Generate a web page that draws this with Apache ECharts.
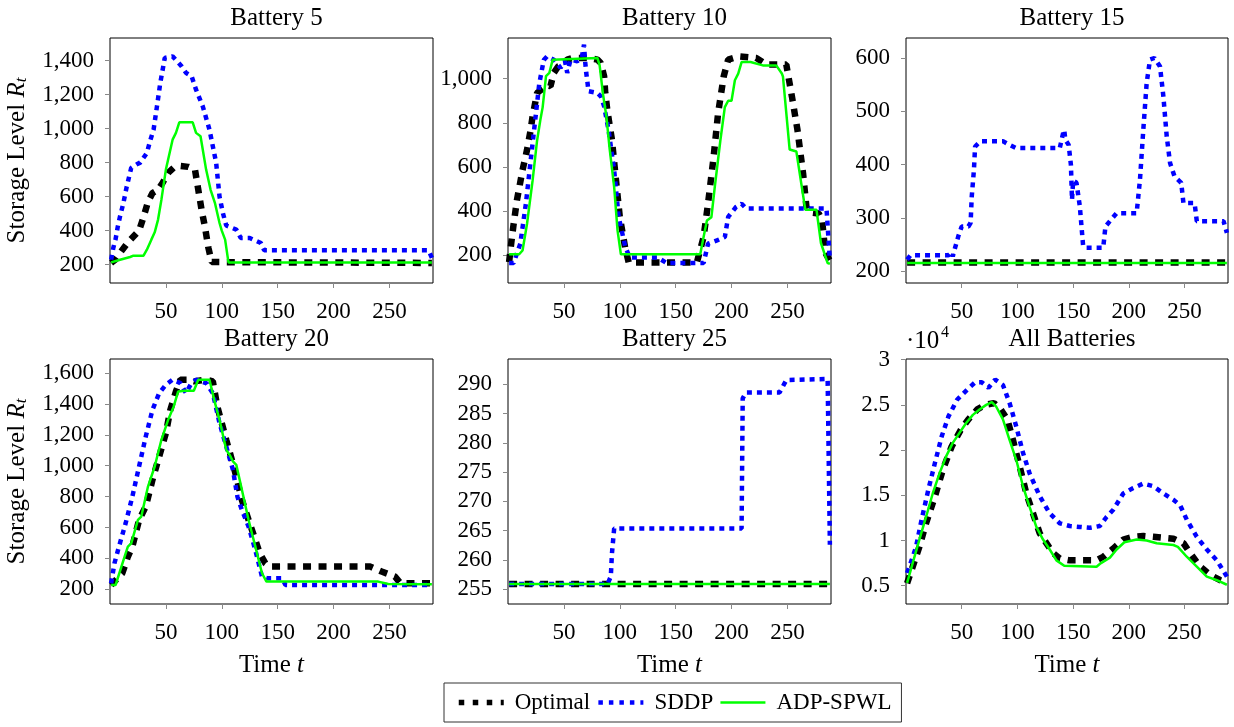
<!DOCTYPE html>
<html>
<head>
<meta charset="utf-8">
<script src="https://cdn.jsdelivr.net/npm/echarts@6/dist/echarts.min.js"></script>
<style>
  html, body { margin: 0; padding: 0; background: #fff; }
  #main { width: 1234px; height: 727px; }
</style>
</head>
<body>
<div id="main"></div>
<script>
// time axis ticks (shared by every panel)
const timeTicks = [50, 100, 150, 200, 250];

// Battery 5
const b5Optimal = [[1,210],[5,230],[10,278],[16,330],[21,365],[26,400],[30,480],[34,570],[38,621],[43,640],[47,680],[52,740],[57,770],[63,780],[70,775],[76,760],[79,640],[82,520],[85,420],[88,300],[91,215],[288,210]];
const b5Sddp = [[1,229],[3,300],[5,350],[7,425],[9,484],[12,563],[15,660],[19,769],[24,790],[27,800],[33,857],[36,930],[39,994],[42,1130],[45,1269],[49,1416],[56,1425],[61,1390],[64,1367],[68,1328],[73,1308],[77,1229],[83,1131],[89,994],[95,798],[98,600],[101,504],[104,430],[113,406],[117,357],[125,357],[135,327],[138,284],[285,284],[288,240]];
const b5Adp = [[1,213],[9,229],[18,245],[21,253],[30,253],[33,288],[37,347],[40,390],[43,465],[46,582],[50,759],[56,935],[59,975],[62,1037],[74,1037],[77,975],[81,955],[86,759],[90,640],[94,560],[98,445],[100,400],[103,347],[106,213],[288,213]];
const b5Ticks = [200, 400, 600, 800, 1000, 1200, 1400];

// Battery 10
const b10Optimal = [[1,170],[3,260],[5,340],[8,450],[13,586],[17,677],[20,760],[22,829],[26,935],[28,943],[35,970],[38,966],[41,1026],[45,1056],[49,1064],[53,1086],[58,1094],[72,1094],[80,1086],[83,1071],[86,1011],[87,935],[89,852],[93,723],[96,571],[100,374],[105,230],[108,168],[169,168],[175,283],[179,435],[184,647],[188,844],[193,1010],[197,1086],[207,1101],[222,1094],[231,1064],[249,1064],[254,920],[259,768],[264,571],[267,420],[270,395],[278,390],[281,359],[284,211],[288,175]];
const b10Sddp = [[1,165],[5,165],[11,253],[16,434],[20,616],[25,842],[28,978],[32,1084],[35,1101],[41,1086],[47,1049],[51,1079],[53,1026],[56,1086],[62,1079],[66,1094],[68,1154],[69,1079],[70,1026],[71,988],[72,943],[80,935],[83,920],[86,875],[90,766],[95,585],[99,374],[105,238],[109,190],[134,190],[142,165],[175,165],[179,253],[187,268],[194,283],[197,374],[204,419],[209,434],[213,412],[285,412],[288,177]];
const b10Adp = [[1,205],[10,205],[13,222],[17,342],[22,538],[26,719],[29,815],[31,870],[34,1011],[37,1026],[40,1086],[80,1094],[82,1060],[85,930],[88,830],[91,680],[95,509],[98,313],[101,205],[172,205],[175,283],[178,358],[182,373],[185,509],[190,720],[194,871],[197,900],[200,900],[203,993],[206,1023],[209,1075],[217,1075],[228,1060],[240,1060],[245,1023],[246,1010],[252,679],[258,670],[266,407],[276,407],[280,256],[286,165],[288,162]];
const b10Ticks = [200, 400, 600, 800, 1000];

// Battery 15
const b15Optimal = [[1,216.5],[288,216.5]];
const b15Sddp = [[1,222],[4,230],[38,230],[41,236],[42,228],[43,236],[47,266],[50,284],[56,284],[58,291],[59,340],[61,391],[62,434],[67,444],[87,444],[92,438],[99,431],[138,431],[141,459],[142,465],[143,447],[146,437],[148,400],[149,334],[150,370],[153,366],[156,322],[159,247],[162,244],[177,244],[179,284],[183,294],[189,309],[207,309],[210,372],[213,466],[216,553],[219,597],[223,600],[228,584],[231,528],[234,453],[237,403],[241,378],[247,366],[249,328],[259,328],[261,294],[285,294],[288,272]];
const b15Adp = [[1,215.5],[288,215.5]];
const b15Ticks = [200, 300, 400, 500, 600];

// Battery 20
const b20Optimal = [[1,228],[11,304],[16,412],[20,477],[26,649],[32,736],[38,909],[44,1060],[50,1211],[54,1362],[59,1481],[63,1557],[70,1557],[75,1546],[86,1557],[92,1546],[96,1384],[100,1276],[104,1168],[109,1038],[113,930],[118,779],[124,649],[130,520],[134,433],[139,368],[143,347],[233,347],[243,315],[255,282],[260,239],[288,239]];
const b20Sddp = [[1,239],[4,369],[8,476],[14,628],[20,800],[26,995],[32,1189],[38,1362],[44,1470],[50,1524],[56,1557],[63,1535],[68,1470],[72,1524],[77,1557],[86,1535],[92,1470],[98,1276],[104,1125],[110,973],[114,800],[118,714],[124,606],[130,455],[136,282],[141,271],[154,271],[157,228],[288,228]];
const b20Adp = [[1,228],[5,228],[14,433],[16,477],[19,498],[25,649],[28,671],[34,865],[40,995],[46,1168],[52,1297],[57,1384],[61,1481],[67,1485],[75,1485],[79,1557],[89,1557],[94,1405],[98,1297],[104,1103],[107,1071],[110,1028],[113,1006],[118,844],[124,649],[130,477],[136,304],[140,250],[240,250],[249,235],[288,233]];
const b20Ticks = [200, 400, 600, 800, 1000, 1200, 1400, 1600];

// Battery 25
const b25Optimal = [[1,255.9],[288,255.9]];
const b25Sddp = [[1,255.9],[89,255.9],[92,257.2],[93,261.1],[95,265.4],[209,265.4],[210,287.6],[213,288.6],[243,288.6],[249,290.7],[286,290.9],[288,262.6]];
const b25Adp = [[1,255.9],[288,255.9]];
const b25Ticks = [255, 260, 265, 270, 275, 280, 285, 290];

// All batteries
const allOptimal = [[1,5260],[6,7100],[12,9300],[18,11900],[26,14900],[33,17800],[41,20400],[49,22200],[56,23400],[64,24500],[71,25000],[79,25200],[85,24500],[91,23400],[96,21100],[102,18200],[108,15200],[114,13000],[120,10800],[126,9700],[132,8600],[138,8000],[147,7800],[171,7800],[177,8200],[186,9100],[195,10100],[204,10400],[213,10500],[222,10400],[240,10200],[249,9700],[255,8600],[264,7100],[273,6200],[282,5600],[288,5300]];
const allSddp = [[1,6400],[5,7800],[9,9300],[14,12300],[20,15600],[26,18600],[32,21500],[38,23700],[46,25600],[55,26700],[62,27500],[68,27500],[74,26900],[80,27800],[87,27200],[93,25200],[99,22600],[105,19700],[111,17400],[120,14900],[129,13000],[138,11900],[147,11600],[156,11500],[165,11400],[174,11600],[180,12600],[186,13400],[195,15200],[204,15800],[213,16300],[222,16000],[231,15200],[240,14500],[246,13900],[252,12300],[261,10400],[270,9000],[279,7800],[288,6000]];
const allAdp = [[1,5300],[6,7500],[12,10100],[18,12600],[24,15200],[30,17400],[36,19300],[42,20800],[48,21900],[54,23000],[60,23900],[66,24500],[72,25000],[77,25300],[81,24800],[87,23400],[93,21100],[99,18900],[105,16000],[111,13700],[117,11500],[123,10100],[129,9000],[135,7800],[142,7200],[171,7100],[175,7500],[183,8100],[189,9000],[196,9800],[207,10100],[216,10000],[225,9700],[240,9500],[244,9300],[252,8200],[261,7100],[270,6000],[279,5600],[288,5100]];
const allTicks = [5000, 10000, 15000, 20000, 25000, 30000];

const serif = "'Liberation Serif', 'DejaVu Serif', serif";

const panels = [
  { title: "Battery 5",     opt: b5Optimal,  sddp: b5Sddp,  adp: b5Adp,  ticks: b5Ticks,  min: 92,   max: 1533,  yName: true },
  { title: "Battery 10",    opt: b10Optimal, sddp: b10Sddp, adp: b10Adp, ticks: b10Ticks, min: 75,   max: 1184 },
  { title: "Battery 15",    opt: b15Optimal, sddp: b15Sddp, adp: b15Adp, ticks: b15Ticks, min: 178,  max: 637.5 },
  { title: "Battery 20",    opt: b20Optimal, sddp: b20Sddp, adp: b20Adp, ticks: b20Ticks, min: 105,  max: 1691, yName: true, xName: true },
  { title: "Battery 25",    opt: b25Optimal, sddp: b25Sddp, adp: b25Adp, ticks: b25Ticks, min: 252.5, max: 294.3, xName: true },
  { title: "All Batteries", opt: allOptimal, sddp: allSddp, adp: allAdp, ticks: allTicks, min: 2970, max: 30080, xName: true, scale: true }
];

// pixel boxes of the six plots
const colLeft = [110, 508, 906];
const colWidth = [323, 323, 322];
const rowTop = [38, 359];
const plotH = 245;

const optStyle = { color: "#000", width: 6.5, type: [8, 7.5] };
const sddpStyle = { color: "#0000ff", width: 4.5, type: [5, 5] };
const adpStyle = { color: "#00ff00", width: 2.5, type: "solid" };

const grid = [], xAxis = [], yAxis = [], series = [], title = [];

panels.forEach((p, i) => {
  const c = i % 3, r = Math.floor(i / 3);
  grid.push({
    left: colLeft[c], top: rowTop[r], width: colWidth[c], height: plotH,
    show: true, borderColor: "#000", borderWidth: 1, backgroundColor: "transparent"
  });
  title.push({
    text: p.title,
    left: colLeft[c] + colWidth[c] / 2,
    top: rowTop[r] - 37,
    textAlign: "center",
    textStyle: { fontFamily: serif, fontSize: 25, fontWeight: "normal", color: "#000" }
  });
  xAxis.push({
    gridIndex: i, type: "value", min: 0, max: 289,
    axisLine: { show: false },
    splitLine: { show: false },
    axisTick: { show: true, inside: false, length: 5, lineStyle: { color: "#888" }, customValues: timeTicks },
    axisLabel: { customValues: timeTicks, margin: 17, fontFamily: serif, fontSize: 23, color: "#000" },
    name: p.xName ? "Time {i|t}" : "",
    nameLocation: "middle",
    nameGap: 49,
    nameTextStyle: {
      fontFamily: serif, fontSize: 25, color: "#000",
      rich: { i: { fontFamily: serif, fontSize: 25, fontStyle: "italic", color: "#000" } }
    }
  });
  yAxis.push({
    gridIndex: i, type: "value", min: p.min, max: p.max,
    axisLine: { show: false },
    splitLine: { show: false },
    axisTick: { show: true, inside: false, length: 5, lineStyle: { color: "#888" }, customValues: p.ticks },
    axisLabel: {
      customValues: p.ticks, margin: 16, fontFamily: serif, fontSize: 23, color: "#000",
      formatter: v => p.scale ? String(v / 10000) : v.toLocaleString("en-US")
    },
    name: p.yName ? "Storage Level {i|R}{sub|t}" : "",
    nameLocation: "middle",
    nameGap: 80,
    nameTextStyle: {
      fontFamily: serif, fontSize: 25, color: "#000",
      rich: {
        i: { fontFamily: serif, fontSize: 25, fontStyle: "italic", color: "#000" },
        sub: { fontFamily: serif, fontSize: 17, fontStyle: "italic", color: "#000", verticalAlign: "bottom", lineHeight: 14 }
      }
    }
  });
  series.push(
    { name: "Optimal", type: "line", xAxisIndex: i, yAxisIndex: i, data: p.opt, showSymbol: false, symbol: "none", lineStyle: optStyle, itemStyle: { color: "#000" }, z: 2 },
    { name: "SDDP", type: "line", xAxisIndex: i, yAxisIndex: i, data: p.sddp, showSymbol: false, symbol: "none", lineStyle: sddpStyle, itemStyle: { color: "#0000ff" }, z: 3 },
    { name: "ADP-SPWL", type: "line", xAxisIndex: i, yAxisIndex: i, data: p.adp, showSymbol: false, symbol: "none", lineStyle: adpStyle, itemStyle: { color: "#00ff00" }, z: 4 }
  );
});

const chart = echarts.init(document.getElementById("main"), null, { renderer: "canvas" });
chart.setOption({
  animation: false,
  backgroundColor: "#fff",
  title: title,
  grid: grid,
  xAxis: xAxis,
  yAxis: yAxis,
  series: series,
  legend: {
    data: [
      { name: "Optimal", lineStyle: { color: "#000", width: 5.5, type: [5.5, 8.5] } },
      { name: "SDDP", lineStyle: { color: "#0000ff", width: 4.5, type: [4.5, 6] } },
      { name: "ADP-SPWL", lineStyle: { color: "#00ff00", width: 2.5, type: "solid" } }
    ],
    left: 444, top: 683,
    orient: "horizontal",
    itemWidth: 45, itemHeight: 20, itemGap: 6,
    padding: [8, 10, 8, 12],
    borderColor: "#333", borderWidth: 1,
    itemStyle: { opacity: 0, borderWidth: 0 },
    textStyle: { fontFamily: serif, fontSize: 23, color: "#000", padding: [0, 0, 0, 6] }
  },
  graphic: [
    { type: "text", left: 906, top: 329, style: { text: "·10", font: "25px " + serif, fill: "#000" } },
    { type: "text", left: 941, top: 325, style: { text: "4", font: "16px " + serif, fill: "#000" } }
  ]
});
</script>
</body>
</html>
